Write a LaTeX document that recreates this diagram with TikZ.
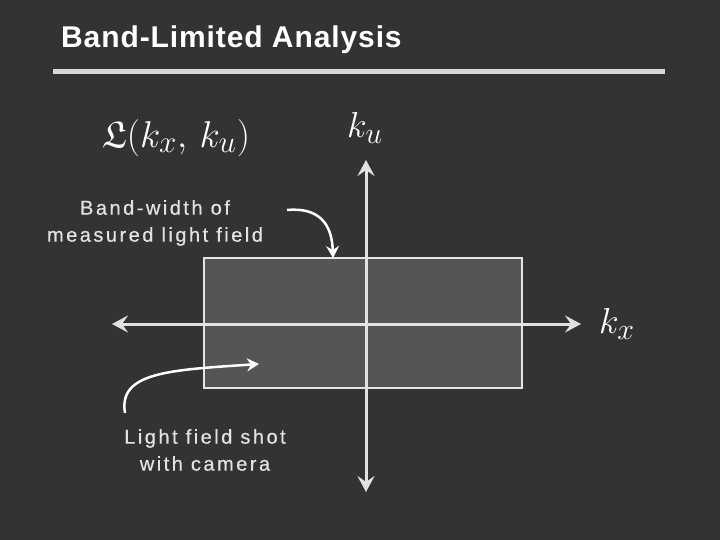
\documentclass[tikz,border=0pt]{standalone}
\usepackage{amssymb}
\usepackage{fontspec}
\setmainfont{Liberation Sans}
\usetikzlibrary{arrows.meta}
\definecolor{bg}{HTML}{333333}
\definecolor{boxfill}{HTML}{555555}
\definecolor{axis}{HTML}{E2E2E2}
\definecolor{rule}{HTML}{D8D8D8}
\tikzset{
  axisline/.style={draw=axis, line width=3pt, -{Stealth[length=16pt,width=17pt,inset=6pt]}},
  callout/.style={draw=white, line width=2.5pt, -{Stealth[length=12pt,width=13pt,inset=4pt]}},
  lbl/.style={text=axis, font=\fontsize{20}{27}\selectfont\addfontfeature{LetterSpace=12.5,FakeBold=0.6}, align=center, inner sep=0pt},
  mathlbl/.style={text=white, inner sep=0pt, font=\fontsize{24.88}{30}\selectfont},
}
\begin{document}
\begin{tikzpicture}[x=1pt,y=-1pt]
\useasboundingbox (0,0) rectangle (720,540);
\fill[bg] (0,0) rectangle (720,540);
% title
\node[anchor=west, text=white, font=\fontsize{30}{34}\selectfont\bfseries\addfontfeature{LetterSpace=3}, inner sep=0pt] (title) at (61,40) {Band-Limited Analysis};
\draw[rule, line width=5pt] (53,72) -- (665,72);
% band box
\node[draw=axis!90, line width=2pt, fill=boxfill, minimum width=318pt, minimum height=130pt, inner sep=0pt] (band) at (363,323) {};
% axes
\coordinate (center) at (366,324);
\coordinate (top) at (366,160);
\coordinate (bottom) at (366,492);
\coordinate (left) at (112,324);
\coordinate (right) at (581,324);
\draw[axisline] (center) -- (top);
\draw[axisline] (center) -- (bottom);
\draw[axisline] (center) -- (left);
\draw[axisline] (center) -- (right);
% labels
\node[mathlbl] (ku) at (365,128) {\scalebox{1.45}{$k_u$}};
\node[mathlbl] (kx) at (617,324) {\scalebox{1.45}{$k_x$}};
\node[mathlbl] (L) at (176,138) {\scalebox{1.5}{$\mathfrak{L}(k_x,\,k_u)$}};
\node[lbl] (bw) at (155,223) {Band-width of\\measured light field};
\node[lbl] (lf) at (205,450) {Light field shot\\with camera};
% callouts
\coordinate (bwstart) at (287,210);
\coordinate (bwend) at (333,258);
\draw[callout] (bwstart) .. controls (320,207) and (332,225) .. (bwend);
\coordinate (lfstart) at (125,413);
\coordinate (lfend) at (259,364);
\draw[callout] (lfstart) .. controls (118,372) and (170,370) .. (lfend);
\end{tikzpicture}
\end{document}
